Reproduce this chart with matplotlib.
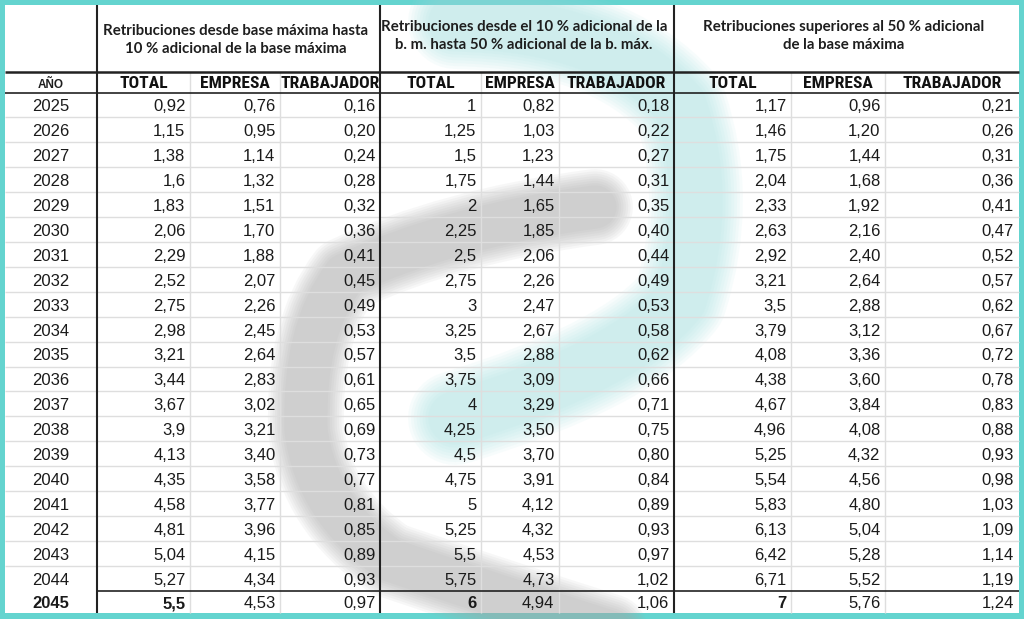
import matplotlib
matplotlib.use("Agg")
import matplotlib.pyplot as plt
from matplotlib import font_manager
from matplotlib.path import Path
from matplotlib.patches import PathPatch, Rectangle

# datos de la tabla
years = [2025, 2026, 2027, 2028, 2029, 2030, 2031, 2032, 2033, 2034, 2035,
         2036, 2037, 2038, 2039, 2040, 2041, 2042, 2043, 2044, 2045]

g1_total = [0.92, 1.15, 1.38, 1.6, 1.83, 2.06, 2.29, 2.52, 2.75, 2.98, 3.21,
            3.44, 3.67, 3.9, 4.13, 4.35, 4.58, 4.81, 5.04, 5.27, 5.5]
g1_empresa = [0.76, 0.95, 1.14, 1.32, 1.51, 1.70, 1.88, 2.07, 2.26, 2.45, 2.64,
              2.83, 3.02, 3.21, 3.40, 3.58, 3.77, 3.96, 4.15, 4.34, 4.53]
g1_trab = [0.16, 0.20, 0.24, 0.28, 0.32, 0.36, 0.41, 0.45, 0.49, 0.53, 0.57,
           0.61, 0.65, 0.69, 0.73, 0.77, 0.81, 0.85, 0.89, 0.93, 0.97]

g2_total = [1, 1.25, 1.5, 1.75, 2, 2.25, 2.5, 2.75, 3, 3.25, 3.5,
            3.75, 4, 4.25, 4.5, 4.75, 5, 5.25, 5.5, 5.75, 6]
g2_empresa = [0.82, 1.03, 1.23, 1.44, 1.65, 1.85, 2.06, 2.26, 2.47, 2.67, 2.88,
              3.09, 3.29, 3.50, 3.70, 3.91, 4.12, 4.32, 4.53, 4.73, 4.94]
g2_trab = [0.18, 0.22, 0.27, 0.31, 0.35, 0.40, 0.44, 0.49, 0.53, 0.58, 0.62,
           0.66, 0.71, 0.75, 0.80, 0.84, 0.89, 0.93, 0.97, 1.02, 1.06]

g3_total = [1.17, 1.46, 1.75, 2.04, 2.33, 2.63, 2.92, 3.21, 3.5, 3.79, 4.08,
            4.38, 4.67, 4.96, 5.25, 5.54, 5.83, 6.13, 6.42, 6.71, 7]
g3_empresa = [0.96, 1.20, 1.44, 1.68, 1.92, 2.16, 2.40, 2.64, 2.88, 3.12, 3.36,
              3.60, 3.84, 4.08, 4.32, 4.56, 4.80, 5.04, 5.28, 5.52, 5.76]
g3_trab = [0.21, 0.26, 0.31, 0.36, 0.41, 0.47, 0.52, 0.57, 0.62, 0.67, 0.72,
           0.78, 0.83, 0.88, 0.93, 0.98, 1.03, 1.09, 1.14, 1.19, 1.24]

group_titles = ["Retribuciones desde base máxima hasta\n10 % adicional de la base máxima",
                "Retribuciones desde el 10 % adicional de la\nb. m. hasta 50 % adicional de la b. máx.",
                "Retribuciones superiores al 50 % adicional\nde la base máxima"]
sub_headers = ["TOTAL", "EMPRESA", "TRABAJADOR"]
year_header = "AÑO"

columns = [g1_total, g1_empresa, g1_trab,
           g2_total, g2_empresa, g2_trab,
           g3_total, g3_empresa, g3_trab]


def fmt_total(v):
    s = "%.2f" % v
    s = s.rstrip("0").rstrip(".")
    return s.replace(".", ",")


def fmt_fixed(v):
    return ("%.2f" % v).replace(".", ",")


def has_font(name):
    try:
        font_manager.findfont(font_manager.FontProperties(family=name),
                              fallback_to_default=False)
        return True
    except ValueError:
        return False


# cabecera estrecha: si no hay fuente condensada, fuente normal mas pequena
narrow_size = 12.6
narrow_font = None
for cand in ["Liberation Sans Narrow", "Roboto Condensed", "DejaVu Sans Condensed"]:
    if has_font(cand):
        narrow_font = [cand, "DejaVu Sans"]
        break
if narrow_font is None:
    narrow_font = ["Liberation Sans", "DejaVu Sans"]
    narrow_size = 10.4

# geometria (pixeles)
teal = "#64d4cf"
col_edges = [4.5, 97, 190, 280, 380, 481, 559, 674, 791, 885, 1018.5]
group_edges = [97, 380, 674, 1018.5]
y_top = 5
y_h1 = 72
y_h2 = 92.5
y_last = 590.7
y_bottom = 612.5
row_h = (y_last - y_h2) / (len(years) - 1)
row_tops = [y_h2 + i * row_h for i in range(len(years))]

fig = plt.figure(figsize=(10.24, 6.19), dpi=100, facecolor=teal)
ax = fig.add_axes([0, 0, 1, 1])
ax.set_xlim(0, 1024)
ax.set_ylim(619, 0)
ax.axis("off")

ax.add_patch(Rectangle((col_edges[0], y_top), col_edges[-1] - col_edges[0],
                       y_bottom - y_top, facecolor="white", edgecolor="none", zorder=0))


# marca de agua (trazos suaves)
def brush(points, color, width, alpha):
    codes = [Path.MOVETO] + [Path.CURVE3] * (len(points) - 1)
    path = Path(points, codes)
    for k in range(8):
        lw = width * (1.3 - 0.08 * k)
        ax.add_patch(PathPatch(path, facecolor="none", edgecolor=color,
                               lw=lw, alpha=alpha, capstyle="round",
                               joinstyle="round", zorder=1))


gray_pts = [(595, 207), (450, 226), (345, 275), (303, 330), (306, 430),
            (316, 510), (390, 560), (490, 594), (610, 632)]
cyan_pts = [(455, 22), (610, 25), (680, 105), (712, 200), (680, 300),
            (630, 365), (455, 418)]
brush(gray_pts, "#a8a8a8", 42, 0.085)
brush(cyan_pts, "#9fe0e0", 52, 0.075)

# lineas de la tabla
light = "#dedede"
dark = "#222222"
for yt in row_tops[1:-1]:
    ax.hlines(yt, col_edges[0], col_edges[-1], color=light, lw=1, zorder=2)
for xe in col_edges[1:-1]:
    if xe not in group_edges:
        ax.vlines(xe, y_h1, y_bottom, color=light, lw=1, zorder=2)
for xe in group_edges[:-1]:
    ax.vlines(xe, y_top, y_bottom, color=dark, lw=1.5, zorder=3)
ax.hlines(y_h1, col_edges[0], col_edges[-1], color=dark, lw=1.8, zorder=3)
ax.hlines(y_h2, col_edges[0], col_edges[-1], color=dark, lw=1.2, zorder=3)
ax.hlines(y_last, col_edges[1], col_edges[-1], color=dark, lw=1.2, zorder=3)

# cabeceras
title_font = ["Lato", "DejaVu Sans"]
body_font = ["Liberation Sans", "DejaVu Sans"]

for g, title in enumerate(group_titles):
    xc = (group_edges[g] + group_edges[g + 1]) / 2 - 3
    yc = 40 if g == 0 else 36
    ax.text(xc, yc, title, ha="center", va="center", fontsize=10.8,
            fontweight="bold", family=title_font, color="#1e1e1e",
            linespacing=1.35, zorder=4)

ax.text((col_edges[0] + col_edges[1]) / 2, 88, year_header, ha="center",
        va="baseline", fontsize=8.5, fontweight="bold", family=body_font,
        color="#1e1e1e", zorder=4)
for c in range(9):
    xc = (col_edges[c + 1] + col_edges[c + 2]) / 2
    ax.text(xc, 88, sub_headers[c % 3], ha="center", va="baseline",
            fontsize=narrow_size, fontweight="bold", family=narrow_font,
            fontstretch="condensed", color="#111111", zorder=4)

# cuerpo
n = len(years)
for i, yr in enumerate(years):
    base = row_tops[i] + 18.9 if i < n - 1 else row_tops[i] + 17.6
    last = (i == n - 1)
    ax.text((col_edges[0] + col_edges[1]) / 2, base, str(yr), ha="center",
            va="baseline", fontsize=12, family=body_font, color="#1a1a1a",
            fontweight="bold" if last else "normal", zorder=4)
    for c, vals in enumerate(columns):
        is_total = (c % 3 == 0)
        txt = fmt_total(vals[i]) if is_total else fmt_fixed(vals[i])
        ax.text(col_edges[c + 2] - 4.5, base, txt, ha="right", va="baseline",
                fontsize=12, family=body_font, color="#1a1a1a",
                fontweight="bold" if (last and is_total) else "normal", zorder=4)

fig.savefig("out.png", dpi=100, facecolor=teal)
